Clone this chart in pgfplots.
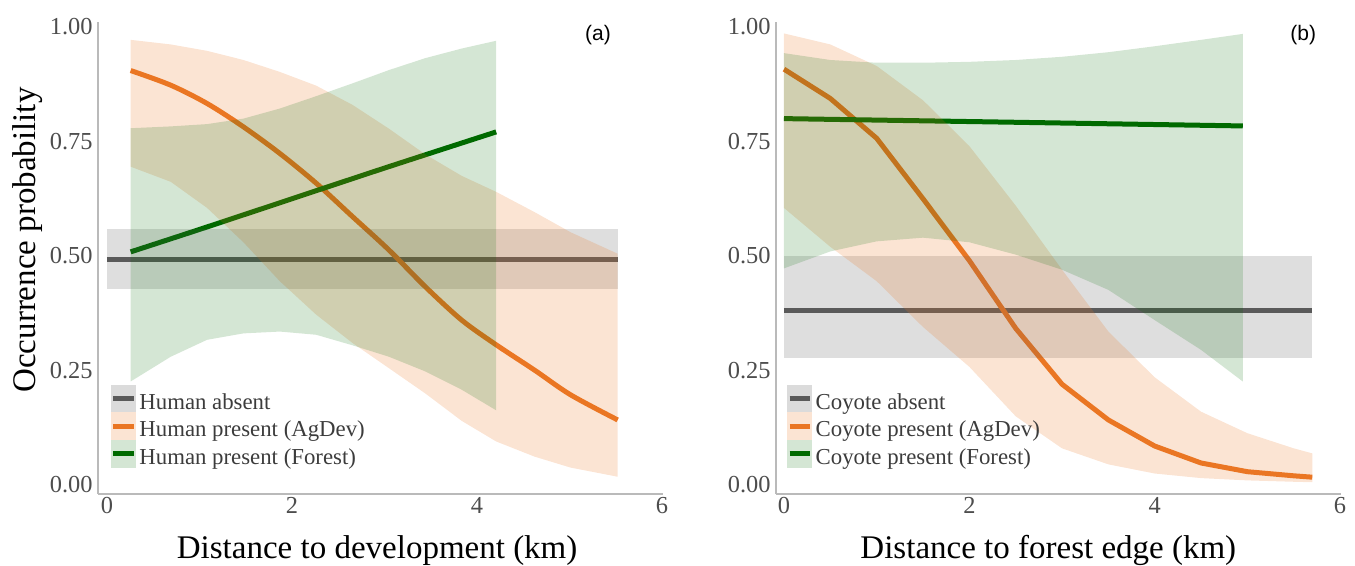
\documentclass[border=0pt]{standalone}
\usepackage{fontspec}
\setmainfont{Liberation Serif}
\newfontfamily\sansf{Liberation Sans}
\usepackage{pgfplots}
\pgfplotsset{compat=1.18}
\definecolor{cgray}{HTML}{5A5A5A}
\definecolor{corange}{HTML}{EA7623}
\definecolor{cgreen}{HTML}{006A00}
\definecolor{tickgray}{HTML}{4D4D4D}
\definecolor{legtext}{HTML}{3C3C3C}
\colorlet{keygray}{cgray!22!white}
\colorlet{keyorange}{corange!20!white}
\colorlet{keygreen}{cgreen!17!white}
\pgfplotsset{
  panel/.style={
    scale only axis, width=282.5pt, height=236pt,
    ymin=-0.0197, ymax=1.011,
    axis x line*=bottom, axis y line*=left,
    axis line style={draw=black!27, line width=0.8pt, -},
    major tick length=0pt,
    xtick={0,2,4,6}, ytick={0,0.25,0.5,0.75,1},
    /pgf/number format/assume math mode=true,
    yticklabel style={/pgf/number format/fixed, /pgf/number format/fixed zerofill, /pgf/number format/precision=2, xshift=-2.5pt},
    xticklabel style={yshift=-1.5pt},
    tick label style={font=\fontsize{12.2}{14}\selectfont, text=tickgray, inner sep=0pt},
    every axis x label/.style={at={(axis description cs:0.494,-0.1377)}, anchor=base, font=\fontsize{16.5}{19}\selectfont},
    every axis y label/.style={at={(axis description cs:-0.1115,0.538)}, anchor=base, rotate=90, font=\fontsize{16.5}{19}\selectfont},
    legend cell align=left,
    legend style={anchor=north west, draw=none, fill=none, inner sep=0pt, outer sep=0pt,
      row sep=0pt, column sep=1.45pt, font=\fontsize{11.4}{13}\selectfont, text=legtext,
      nodes={inner sep=0pt, outer sep=0pt, text height=12pt, text depth=1.35pt}},
  },
  keyimg/.style 2 args={legend image code/.code={
      \fill[#1] (0pt,-6.675pt) rectangle (11.85pt,6.675pt);
      \draw[#2, line width=2.5pt] (0.9pt,0pt) -- (11.3pt,0pt);}},
  band/.style={draw=none, fill=#1, fill opacity=0.2, forget plot},
  mline/.style={draw=#1, line width=2.5pt, no markers, forget plot},
}
\begin{document}
\begin{tikzpicture}
\useasboundingbox (0,0) rectangle (677.5pt,283pt);
% ---------------- panel (a)
\begin{axis}[panel, at={(49pt,36pt)}, anchor=south west,
  xmin=-0.097, xmax=6.01,
  xlabel={Distance to development (km)},
  ylabel={Occurrence probability},
  legend style={at={(0.0225,0.231)}}]
% lines (drawn under the ribbons)
\addplot[mline=cgray] coordinates {(0,0.493) (5.52,0.493)};
\addplot[mline=corange, smooth, tension=0.5] coordinates {
 (0.256,0.905) (0.689,0.873) (1.082,0.833) (1.475,0.782) (1.868,0.724)
 (2.261,0.659) (2.654,0.586) (3.048,0.513) (3.44,0.433) (3.834,0.360)
 (4.207,0.306) (4.62,0.251) (5.01,0.197) (5.52,0.142)};
\addplot[mline=cgreen, smooth, tension=0.5] coordinates {
 (0.256,0.509) (1.0,0.558) (2.0,0.625) (3.0,0.692) (4.207,0.771)};
% ribbons
\addplot[band=cgray] coordinates {(0,0.427) (5.52,0.427) (5.52,0.560) (0,0.560)} -- cycle;
\addplot[band=corange] coordinates {
 (0.256,0.972) (0.689,0.962) (1.082,0.948) (1.475,0.928) (1.868,0.902)
 (2.261,0.872) (2.654,0.830) (3.048,0.778) (3.44,0.722) (3.834,0.675)
 (4.207,0.640) (4.62,0.596) (5.01,0.552) (5.52,0.505)
 (5.52,0.018) (5.01,0.038) (4.62,0.062) (4.207,0.095) (3.834,0.140)
 (3.44,0.200) (3.048,0.255) (2.654,0.310) (2.261,0.372) (1.868,0.445)
 (1.475,0.530) (1.082,0.605) (0.689,0.662) (0.256,0.695)} -- cycle;
\addplot[band=cgreen, fill opacity=0.17] coordinates {
 (0.256,0.779) (0.689,0.783) (1.082,0.788) (1.475,0.800) (1.868,0.822)
 (2.261,0.849) (2.654,0.877) (3.048,0.906) (3.44,0.932) (3.834,0.953) (4.207,0.970)
 (4.207,0.163) (3.834,0.208) (3.44,0.248) (3.048,0.280) (2.654,0.305)
 (2.261,0.328) (1.868,0.335) (1.475,0.331) (1.082,0.317) (0.689,0.280) (0.256,0.226)} -- cycle;
\addlegendimage{keyimg={keygray}{cgray}}
\addlegendentry{Human absent}
\addlegendimage{keyimg={keyorange}{corange}}
\addlegendentry{Human present (AgDev)}
\addlegendimage{keyimg={keygreen}{cgreen}}
\addlegendentry{Human present (Forest)}
\node[font=\sansf\fontsize{10.5}{12}\selectfont] at (axis description cs:0.885,0.972) {(a)};
\end{axis}
% ---------------- panel (b)
\begin{axis}[panel, at={(388pt,36pt)}, anchor=south west,
  xmin=-0.086, xmax=6.01,
  xlabel={Distance to forest edge (km)},
  every axis x label/.append style={at={(axis description cs:0.482,-0.1377)}},
  legend style={at={(0.0195,0.231)}}]
\addplot[mline=cgray] coordinates {(0,0.381) (5.70,0.381)};
\addplot[mline=corange] coordinates {
 (0,0.908) (0.5,0.844) (1.0,0.757) (1.5,0.625) (2.0,0.490) (2.5,0.342)
 (3.0,0.220) (3.5,0.142) (4.0,0.085) (4.5,0.048) (5.0,0.029) (5.5,0.020) (5.7,0.017)};
\addplot[mline=cgreen] coordinates {(0,0.800) (2.5,0.792) (4.95,0.784)};
\addplot[band=cgray] coordinates {(0,0.277) (5.70,0.277) (5.70,0.499) (0,0.499)} -- cycle;
\addplot[band=corange] coordinates {
 (0,0.986) (0.5,0.962) (1.0,0.915) (1.5,0.840) (2.0,0.740) (2.5,0.610)
 (3.0,0.470) (3.5,0.335) (4.0,0.235) (4.5,0.160) (5.0,0.113) (5.5,0.080) (5.7,0.069)
 (5.7,0.006) (5.5,0.007) (5.0,0.010) (4.5,0.015) (4.0,0.025) (3.5,0.045)
 (3.0,0.080) (2.5,0.150) (2.0,0.258) (1.5,0.345) (1.0,0.445) (0.5,0.520) (0,0.605)} -- cycle;
\addplot[band=cgreen, fill opacity=0.17] coordinates {
 (0,0.943) (0.5,0.928) (1.0,0.922) (1.5,0.922) (2.0,0.924) (2.5,0.928)
 (3.0,0.935) (3.5,0.945) (4.0,0.958) (4.5,0.972) (4.95,0.985)
 (4.95,0.226) (4.5,0.295) (4.0,0.360) (3.5,0.426) (3.0,0.470) (2.5,0.503)
 (2.0,0.530) (1.5,0.540) (1.0,0.532) (0.5,0.510) (0,0.473)} -- cycle;
\addlegendimage{keyimg={keygray}{cgray}}
\addlegendentry{Coyote absent}
\addlegendimage{keyimg={keyorange}{corange}}
\addlegendentry{Coyote present (AgDev)}
\addlegendimage{keyimg={keygreen}{cgreen}}
\addlegendentry{Coyote present (Forest)}
\node[font=\sansf\fontsize{10.5}{12}\selectfont] at (axis description cs:0.933,0.972) {(b)};
\end{axis}
\end{tikzpicture}
\end{document}
